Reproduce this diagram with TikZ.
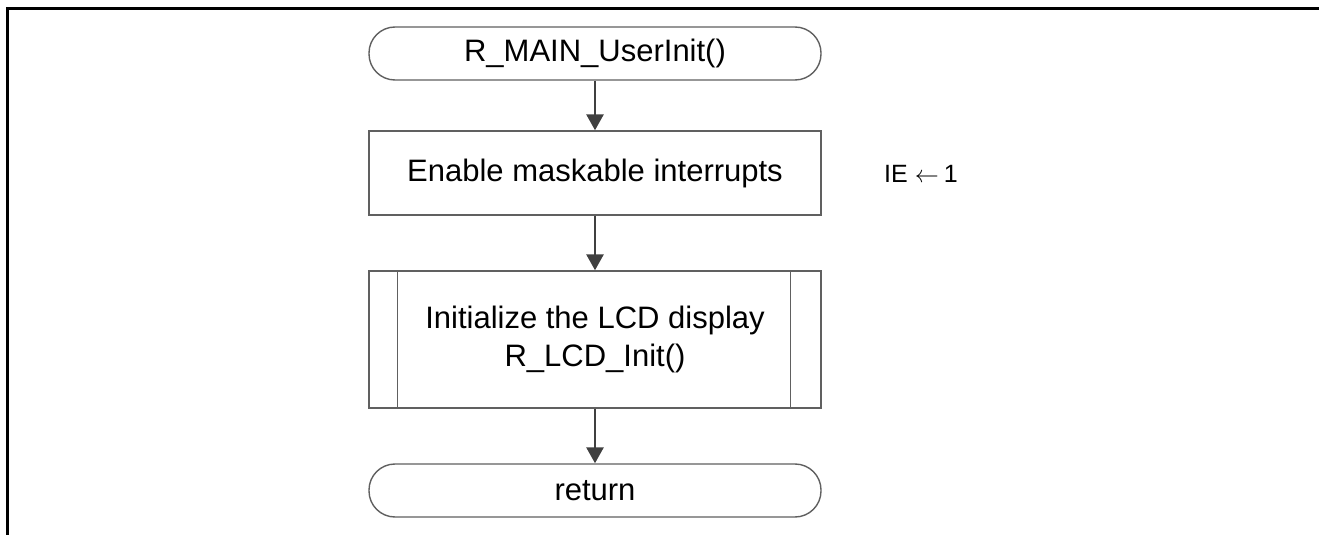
\documentclass[tikz,border=0pt]{standalone}
\usepackage{fontspec}
\setmainfont{Liberation Sans}
\usetikzlibrary{arrows.meta}

\definecolor{boxgray}{HTML}{606060}
\definecolor{arrowgray}{HTML}{404040}

\tikzset{
    terminal/.style={draw=boxgray, line width=0.7pt, rounded corners=13pt, minimum width=226pt, minimum height=26.5pt, font=\fontsize{15.5}{19}\selectfont},
    procbox/.style={draw=boxgray, line width=0.7pt, minimum width=226pt, minimum height=42pt, font=\fontsize{15.5}{19}\selectfont},
    subproc/.style={procbox, minimum height=68.5pt, align=center},
    flow/.style={-{Triangle[width=8.5pt, length=8pt]}, line width=1.4pt, arrowgray}
}

\begin{document}
\begin{tikzpicture}[x=0.5pt, y=-0.5pt]
    \useasboundingbox (0,0) rectangle (1319,535);
    \draw[line width=1.5pt] (7,535) -- (7,9) -- (1319,9);

    \node[terminal] (start) at (595,53.5) {R\_MAIN\_UserInit()};
    \node[procbox] (enable) at (595,173) {Enable maskable interrupts};
    \node[subproc] (lcdinit) at (595,339.5) {Initialize the LCD display\\R\_LCD\_Init()};
    \node[terminal] (ret) at (595,490.5) {return};

    \draw[boxgray, line width=0.7pt] ([xshift=14.5pt]lcdinit.north west) -- ([xshift=14.5pt]lcdinit.south west);
    \draw[boxgray, line width=0.7pt] ([xshift=-15.5pt]lcdinit.north east) -- ([xshift=-15.5pt]lcdinit.south east);

    \node[font=\fontsize{12.5}{14}\selectfont] (ieset) at (921,174) {IE\kern3.5pt$\leftarrow$\kern2.5pt1};

    \draw[flow] (start) -- (enable);
    \draw[flow] (enable) -- (lcdinit);
    \draw[flow] (lcdinit) -- (ret);
\end{tikzpicture}
\end{document}
